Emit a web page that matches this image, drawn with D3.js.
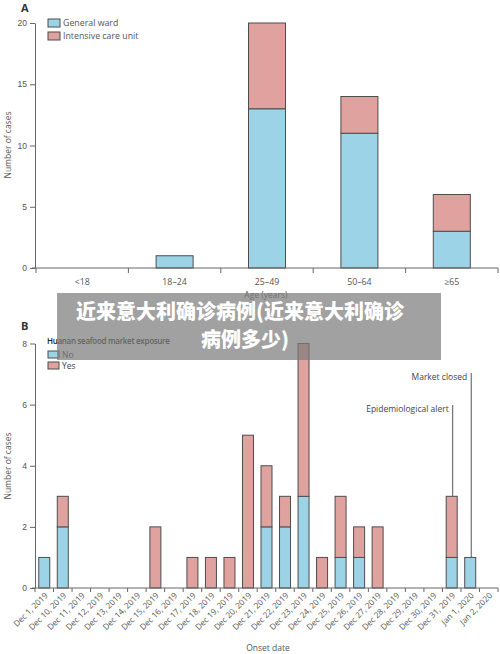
<!DOCTYPE html>
<html><head><meta charset="utf-8">
<script src="https://cdn.jsdelivr.net/npm/d3@7/dist/d3.min.js"></script>
<style>
body{margin:0;background:#fff;}
svg{display:block;font-family:"Open Sans","Liberation Sans",sans-serif;}
</style></head><body>
<svg id="c" width="500" height="654"></svg>
<script>
// Panel A data
const ageGroups = ["<18","18–24","25–49","50–64","≥65"];
const generalWard = [0,1,13,11,3];
const icu = [0,0,7,3,3];
const ticksA = [0,5,10,15,20];

// Panel B data
const onsetDates = ["Dec 1, 2019","Dec 10, 2019","Dec 11, 2019","Dec 12, 2019","Dec 13, 2019","Dec 14, 2019","Dec 15, 2019","Dec 16, 2019","Dec 17, 2019","Dec 18, 2019","Dec 19, 2019","Dec 20, 2019","Dec 21, 2019","Dec 22, 2019","Dec 23, 2019","Dec 24, 2019","Dec 25, 2019","Dec 26, 2019","Dec 27, 2019","Dec 28, 2019","Dec 29, 2019","Dec 30, 2019","Dec 31, 2019","Jan 1, 2020","Jan 2, 2020"];
const exposureNo  = [1,2,0,0,0,0,0,0,0,0,0,0,2,2,3,0,1,1,0,0,0,0,1,1,0];
const exposureYes = [0,1,0,0,0,0,2,0,1,1,1,5,2,1,5,1,2,1,2,0,0,0,2,0,0];
const ticksB = [0,2,4,6,8];
const events = [{date:"Dec 31, 2019", label:"Epidemiological alert", top:405},
                {date:"Jan 1, 2020", label:"Market closed", top:373}];

const BLUE="#9dd3e6", PINK="#e0a29f", STROKE="#4d4d4d", TXT="#555";
const svg=d3.select("#c");

function axisStyle(g){
  g.selectAll("path,line").attr("stroke","#666").attr("stroke-width",1);
  g.selectAll("text").attr("fill",TXT).attr("font-size",8.5);
}

// ---------- Panel A ----------
{
  const L=35,R=498,T=23,B=268;
  const x=d3.scaleBand().domain(ageGroups).range([L+1,R]).paddingInner(0).paddingOuter(0);
  const y=d3.scaleLinear().domain([0,20]).range([B,T]);
  const bw=37;
  const gA=svg.append("g");
  ageGroups.forEach((c,i)=>{
    const cx=x(c)+x.bandwidth()/2;
    if(generalWard[i]>0) gA.append("rect").attr("x",cx-bw/2).attr("width",bw)
      .attr("y",y(generalWard[i])).attr("height",y(0)-y(generalWard[i]))
      .attr("fill",BLUE).attr("stroke",STROKE).attr("stroke-width",1);
    if(icu[i]>0) gA.append("rect").attr("x",cx-bw/2).attr("width",bw)
      .attr("y",y(generalWard[i]+icu[i])).attr("height",y(generalWard[i])-y(generalWard[i]+icu[i]))
      .attr("fill",PINK).attr("stroke",STROKE).attr("stroke-width",1);
  });
  const ya=svg.append("g").attr("transform",`translate(${L},0)`)
    .call(d3.axisLeft(y).tickValues(ticksA).tickSize(5).tickSizeOuter(0).tickPadding(3));
  axisStyle(ya);
  svg.append("line").attr("x1",L-3).attr("x2",R).attr("y1",B).attr("y2",B).attr("stroke","#666");
  const bounds=ageGroups.map(c=>x(c)).concat([R]);
  svg.selectAll(".bta").data(bounds).join("line").attr("x1",d=>d).attr("x2",d=>d)
    .attr("y1",B).attr("y2",B+5).attr("stroke","#666");
  svg.selectAll(".lta").data(ageGroups).join("text").attr("x",d=>x(d)+x.bandwidth()/2).attr("y",B+17)
    .attr("text-anchor","middle").attr("font-size",8.8).attr("fill",TXT).text(d=>d);
  svg.append("text").attr("x",266).attr("y",298).attr("text-anchor","middle").attr("font-size",8.5).attr("fill",TXT).text("Age (years)");
  svg.append("text").attr("transform","translate(11,145) rotate(-90)").attr("text-anchor","middle").attr("font-size",8.5).attr("fill",TXT).text("Number of cases");
  svg.append("text").attr("x",21).attr("y",12).attr("font-size",11).attr("font-weight","bold").attr("fill","#333").text("A");
  const leg=[["General ward",BLUE],["Intensive care unit",PINK]];
  leg.forEach((d,i)=>{
    svg.append("rect").attr("x",48).attr("y",19+i*13).attr("width",12).attr("height",8).attr("fill",d[1]).attr("stroke",STROKE);
    svg.append("text").attr("x",63).attr("y",26+i*13).attr("font-size",8.8).attr("fill",TXT).text(d[0]);
  });
}

// ---------- Panel B ----------
{
  const L=35,R=498,T=343.5,B=588;
  const x=d3.scaleBand().domain(onsetDates).range([L,R]).paddingInner(0).paddingOuter(0);
  const y=d3.scaleLinear().domain([0,8]).range([B,T]);
  const bw=11;
  const gB=svg.append("g");
  onsetDates.forEach((c,i)=>{
    const cx=x(c)+x.bandwidth()/2;
    if(exposureNo[i]>0) gB.append("rect").attr("x",cx-bw/2).attr("width",bw)
      .attr("y",y(exposureNo[i])).attr("height",y(0)-y(exposureNo[i]))
      .attr("fill",BLUE).attr("stroke",STROKE).attr("stroke-width",1);
    if(exposureYes[i]>0) gB.append("rect").attr("x",cx-bw/2).attr("width",bw)
      .attr("y",y(exposureNo[i]+exposureYes[i])).attr("height",y(exposureNo[i])-y(exposureNo[i]+exposureYes[i]))
      .attr("fill",PINK).attr("stroke",STROKE).attr("stroke-width",1);
  });
  const ya=svg.append("g").attr("transform",`translate(${L},0)`)
    .call(d3.axisLeft(y).tickValues(ticksB).tickSize(5).tickSizeOuter(0).tickPadding(3));
  axisStyle(ya);
  svg.append("line").attr("x1",L-3).attr("x2",R).attr("y1",B).attr("y2",B).attr("stroke","#666");
  const bounds=onsetDates.map(c=>x(c)).concat([R]);
  svg.selectAll(".btb").data(bounds).join("line").attr("x1",d=>d).attr("x2",d=>d)
    .attr("y1",B).attr("y2",B+4).attr("stroke","#666");
  svg.selectAll(".ltb").data(onsetDates).join("text")
    .attr("transform",d=>`translate(${x(d)+x.bandwidth()/2+4},${B+8}) rotate(-45)`)
    .attr("text-anchor","end").attr("font-size",8.2).attr("fill",TXT).text(d=>d);
  svg.append("text").attr("x",268).attr("y",651).attr("text-anchor","middle").attr("font-size",8.5).attr("fill",TXT).text("Onset date");
  svg.append("text").attr("transform","translate(11,466) rotate(-90)").attr("text-anchor","middle").attr("font-size",8.5).attr("fill",TXT).text("Number of cases");
  svg.append("text").attr("x",21).attr("y",330).attr("font-size",11).attr("font-weight","bold").attr("fill","#333").text("B");
  svg.append("text").attr("x",47).attr("y",344).attr("font-size",8).attr("font-weight",600).attr("fill","#222").attr("letter-spacing",-0.3).text("Huanan seafood market exposure");
  const leg=[["No",BLUE],["Yes",PINK]];
  leg.forEach((d,i)=>{
    svg.append("rect").attr("x",48).attr("y",351+i*11).attr("width",11).attr("height",7).attr("fill",d[1]).attr("stroke",STROKE);
    svg.append("text").attr("x",62).attr("y",358+i*11).attr("font-size",8.5).attr("fill","#444").text(d[0]);
  });
  events.forEach(e=>{
    const i=onsetDates.indexOf(e.date);
    const cx=x(e.date)+x.bandwidth()/2+1;
    const tot=exposureNo[i]+exposureYes[i];
    svg.append("line").attr("x1",cx).attr("x2",cx).attr("y1",e.top).attr("y2",y(tot)).attr("stroke","#555").attr("stroke-width",1);
    svg.append("text").attr("x",cx-4).attr("y",e.top+7).attr("text-anchor","end").attr("font-size",8.5).attr("fill","#444").text(e.label);
  });
}

// ---------- overlay banner ----------
svg.append("rect").attr("x",57).attr("y",293).attr("width",384).attr("height",67).attr("fill","rgb(125,125,125)").attr("opacity",0.72);
svg.append("text").attr("x",240).attr("y",319).attr("text-anchor","middle").attr("font-family","'Noto Sans CJK SC',sans-serif")
  .attr("font-weight",900).attr("font-size",20).attr("fill","#fff").text("近来意大利确诊病例(近来意大利确诊");
svg.append("text").attr("x",245).attr("y",347).attr("text-anchor","middle").attr("font-family","'Noto Sans CJK SC',sans-serif")
  .attr("font-weight",900).attr("font-size",20).attr("fill","#fff").text("病例多少)");
</script>
</body></html>
